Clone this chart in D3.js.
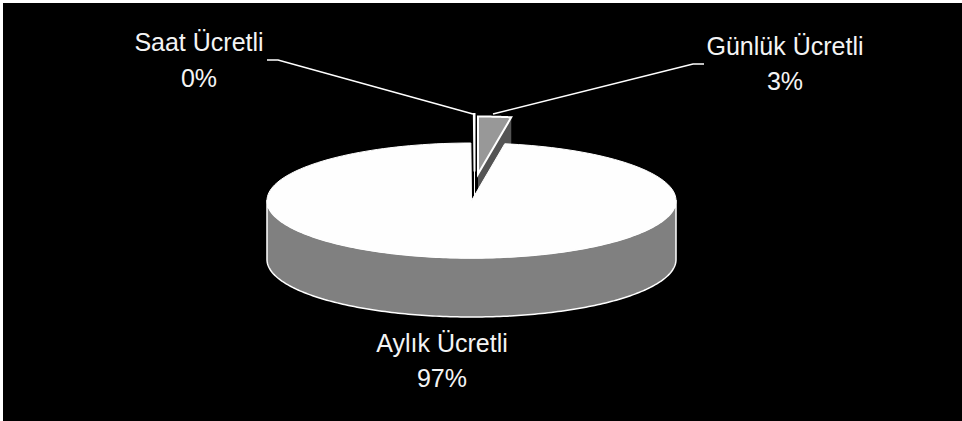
<!DOCTYPE html>
<html>
<head>
<meta charset="utf-8">
<script src="https://cdn.jsdelivr.net/npm/d3@7"></script>
<style>
html,body{margin:0;padding:0;background:#fff;overflow:hidden}
svg{display:block}
text{font-family:"Liberation Sans",Arial,sans-serif;font-size:25px;fill:#f4f4f4;text-anchor:middle}
</style>
</head>
<body>
<svg id="c" width="962" height="421"></svg>
<script>
const categories = ["Saat Ücretli", "Günlük Ücretli", "Aylık Ücretli"];
const values = [0.05, 2.6, 97.35];

const W = 962, H = 421;
const cx = 471.5, cy = 200.5, rx = 204.5, ry = 57.5, depth = 59;
const explode = [[3, -29], [6.5, -26.5], [0, 0]];
const topFill = ["#ffffff", "#989898", "#fefefe"];
const sideFill = ["#ffffff", "#545454", "#808080"];
const labelPos = [[199, 51, 87], [785, 55, 90], [442, 352, 387]];
const leaders = [[[267, 60], [278, 60], [473, 114]], [[704, 64], [693, 64], [493, 114]], null];

const svg = d3.select("#c");
svg.append("rect").attr("x", 3).attr("y", 3).attr("width", W - 3).attr("height", H - 3).attr("fill", "#000");

const arcs = d3.pie().sort(null).value(d => d).startAngle(-values[0] / 100 * 2 * Math.PI)
  .endAngle(2 * Math.PI - values[0] / 100 * 2 * Math.PI)(values);

const px = a => rx * Math.sin(a), py = a => -ry * Math.cos(a);
const line = d3.line();
const samples = (a0, a1) => d3.range(0, 181).map(i => a0 + (a1 - a0) * i / 180);

function drawSlice(i) {
  const d = arcs[i], [ox, oy] = explode[i];
  const g = svg.append("g").attr("transform", `translate(${cx + ox},${cy + oy})`);
  const rim = samples(d.startAngle, d.endAngle).map(a => [px(a), py(a)]);
  if (i === 2) {
    // visible front wall of the large slice
    const front = samples(Math.PI / 2, 3 * Math.PI / 2);
    const pts = front.map(a => [px(a), py(a)])
      .concat(front.slice().reverse().map(a => [px(a), py(a) + depth]));
    g.append("path").attr("d", line(pts) + "Z").attr("fill", sideFill[i])
      .attr("stroke", "#fff").attr("stroke-width", 1.5).attr("stroke-linejoin", "round");
  } else {
    // cut face running down from the apex and the arc end
    const e = d.endAngle;
    g.append("path").attr("d", line([[0, 0], [px(e), py(e)], [px(e), py(e) + depth], [0, depth]]) + "Z")
      .attr("fill", sideFill[i]).attr("stroke", i === 0 ? "#fff" : "none");
  }
  g.append("path").attr("d", line([[0, 0], ...rim]) + "Z").attr("fill", topFill[i])
    .attr("stroke", "#fff").attr("stroke-width", i === 2 ? 1 : 2).attr("stroke-linejoin", "miter");
}
[0, 1, 2].forEach(drawSlice);

leaders.forEach(l => {
  if (l) svg.append("path").attr("d", line(l)).attr("fill", "none").attr("stroke", "#fff").attr("stroke-width", 1.5);
});

categories.forEach((c, i) => {
  const [x, y1, y2] = labelPos[i];
  svg.append("text").attr("x", x).attr("y", y1).text(c);
  svg.append("text").attr("x", x).attr("y", y2).text(Math.round(values[i]) + "%");
});
</script>
</body>
</html>
